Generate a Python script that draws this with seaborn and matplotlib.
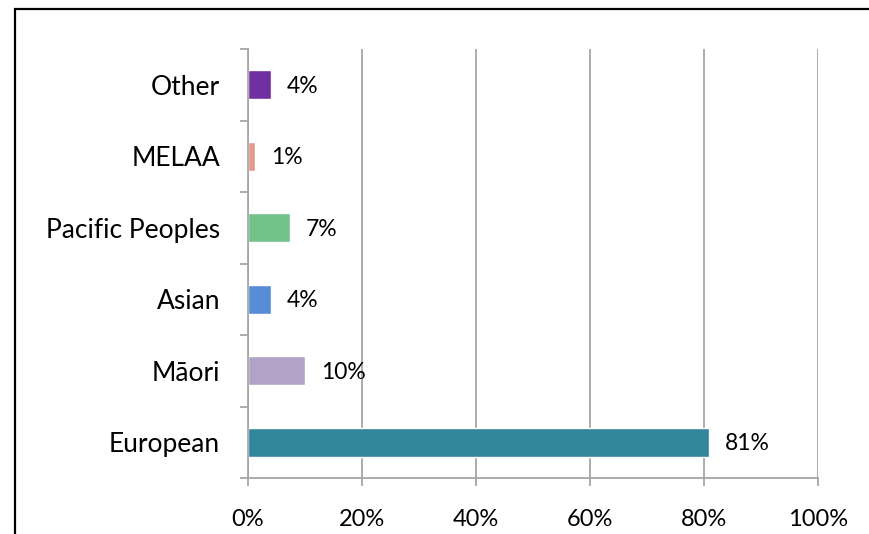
import matplotlib
matplotlib.use("Agg")
import matplotlib.pyplot as plt
import seaborn as sns
import pandas as pd
from matplotlib.patches import Rectangle
from matplotlib.ticker import FixedLocator, PercentFormatter

categories = ["Other", "MELAA", "Pacific Peoples", "Asian", "Māori", "European"]
values = [4.0, 1.3, 7.3, 4.0, 10.0, 80.9]
labels = ["4%", "1%", "7%", "4%", "10%", "81%"]
colors = ["#7030A0", "#E6998D", "#72C28A", "#558ED5", "#B3A2C7", "#31869B"]
xticks = [0, 20, 40, 60, 80, 100]

sns.set_theme(style="white")
plt.rcParams["font.family"] = ["Lato", "DejaVu Sans"]

df = pd.DataFrame({"cat": categories, "val": values})

fig = plt.figure(figsize=(8.7, 5.34), dpi=100)
ax = fig.add_axes([248 / 870, 1 - 478 / 534, 570 / 870, 429 / 534])

sns.barplot(data=df, x="val", y="cat", hue="cat", palette=colors, order=categories,
            hue_order=categories, width=0.4, legend=False, ax=ax, saturation=1)

ax.set_xlim(0, 100)
ax.set_ylim(5.5, -0.5)
ax.set_xlabel("")
ax.set_ylabel("")

grid_c = "#A6A6A6"
ax.xaxis.set_major_locator(FixedLocator(xticks))
ax.xaxis.set_major_formatter(PercentFormatter(decimals=0))
ax.grid(axis="x", color=grid_c, linewidth=1.3)
ax.set_axisbelow(True)
for s in ["top", "right"]:
    ax.spines[s].set_visible(False)
for s in ["left", "bottom"]:
    ax.spines[s].set_color(grid_c)
    ax.spines[s].set_linewidth(1.3)

ax.tick_params(axis="x", direction="out", length=6, width=1.3, color=grid_c,
               pad=16, labelsize=17, labelcolor="black", bottom=True)
ax.tick_params(axis="y", which="major", length=0, pad=20, labelsize=19, labelcolor="black")
ax.set_yticks([i + 0.5 for i in range(-1, 6)], minor=True)
ax.tick_params(axis="y", which="minor", direction="out", length=6, width=1.3, color=grid_c, left=True)

for i, (v, lab) in enumerate(zip(values, labels)):
    ax.annotate(lab, xy=(v, i), xytext=(11.5, -1.2), textcoords="offset points",
                ha="left", va="center", fontsize=16.5, color="black")

frame = Rectangle((15 / 870, -0.1), 1.2, 1 - 9 / 534 + 0.1, transform=fig.transFigure,
                  fill=False, edgecolor="black", linewidth=1.6, clip_on=False)
fig.patches.append(frame)

fig.savefig("out.png", dpi=100)
